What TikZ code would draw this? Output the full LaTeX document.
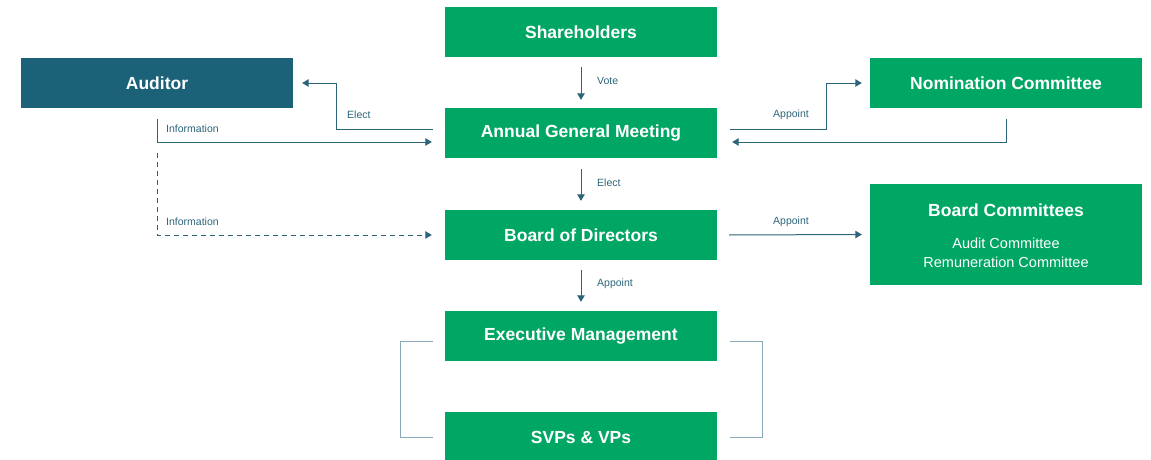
\documentclass[tikz,border=0pt]{standalone}
\usepackage{fontspec}
\setmainfont{Liberation Sans}
\usetikzlibrary{arrows.meta}
\definecolor{boxGreen}{HTML}{00A664}
\definecolor{boxTeal}{HTML}{1B6278}
\definecolor{lineTeal}{HTML}{2C6479}
\definecolor{lineGrey}{HTML}{8AA9B8}

\begin{document}
\begin{tikzpicture}[x=1pt,y=-1pt,
    box/.style={fill=boxGreen,text=white,minimum width=272pt,minimum height=50pt,inner sep=0pt,font=\fontsize{17.5}{20}\selectfont\bfseries},
    flow/.style={draw=lineTeal,line width=1pt,-{Triangle[length=6.5pt,width=7.5pt]}},
    lbl/.style={text=lineTeal,font=\fontsize{10.5}{12}\selectfont,inner sep=0pt,anchor=west},
    sub/.style={text=white,inner sep=0pt,font=\fontsize{14.5}{16}\selectfont}
]
    \useasboundingbox (0,0) rectangle (1151,460);

    % draw boxes
    \node[box] (share) at (581,32) {Shareholders};
    \node[box,fill=boxTeal] (auditor) at (157,83) {Auditor};
    \node[box] (nom) at (1006,83) {Nomination Committee};
    \node[box] (agm) at (581,133) {Annual General Meeting};
    \node[box] (bod) at (581,235) {Board of Directors};
    \node[box,minimum height=101pt] (bcom) at (1006,234.5) {};
    \node[box] (exec) at (581,336) {Executive Management};
    \node[box] (svp) at (581,437) {SVPs \& VPs};

    % board committees text
    \node[sub,font=\fontsize{17.5}{20}\selectfont\bfseries] (bcomTitle) at (1006,210) {Board Committees};
    \node[sub] (bcomAudit) at (1006,243) {Audit Committee};
    \node[sub] (bcomRem) at (1006,262) {Remuneration Committee};

    % draw vertical arrows
    \draw[flow] ([yshift=-10pt]share.south) -- ([yshift=8pt]agm.north);
    \draw[flow] ([yshift=-11pt]agm.south) -- ([yshift=9pt]bod.north);
    \draw[flow] ([yshift=-10pt]bod.south) -- ([yshift=9pt]exec.north);

    % draw side arrows
    \draw[flow] ([xshift=-12pt,yshift=4pt]agm.west) -- ++(-96,0) |- ([xshift=9pt]auditor.east);
    \draw[flow] ([yshift=-11pt]auditor.south) |- ([xshift=-13pt,yshift=-9pt]agm.west);
    \draw[flow,dash pattern=on 5pt off 4pt] ([yshift=-45pt]auditor.south) |- ([xshift=-13pt]bod.west);
    \draw[flow] ([xshift=13pt,yshift=4pt]agm.east) -- ++(96,0) |- ([xshift=-8pt]nom.west);
    \draw[flow] ([yshift=-11pt]nom.south) |- ([xshift=15pt,yshift=-9pt]agm.east);
    \draw[flow] ([xshift=12pt]bod.east) -- ([xshift=-8pt]bcom.west);

    % draw brackets
    \draw[lineGrey,line width=1pt] ([xshift=-12pt,yshift=-5pt]exec.west) -- ++(-32,0) |- ([xshift=-12pt]svp.west);
    \draw[lineGrey,line width=1pt] ([xshift=13pt,yshift=-5pt]exec.east) -- ++(32,0) |- ([xshift=13pt]svp.east);

    % draw labels
    \node[lbl] (voteLbl) at (597,81) {Vote};
    \node[lbl] (electAudLbl) at (347,115) {Elect};
    \node[lbl] (infoLbl) at (166,129) {Information};
    \node[lbl] (infoDashLbl) at (166,222) {Information};
    \node[lbl] (electBodLbl) at (597,183) {Elect};
    \node[lbl] (appExecLbl) at (597,284) {Appoint};
    \node[lbl] (appNomLbl) at (773,115) {Appoint};
    \node[lbl] (appComLbl) at (773,222) {Appoint};
\end{tikzpicture}
\end{document}
